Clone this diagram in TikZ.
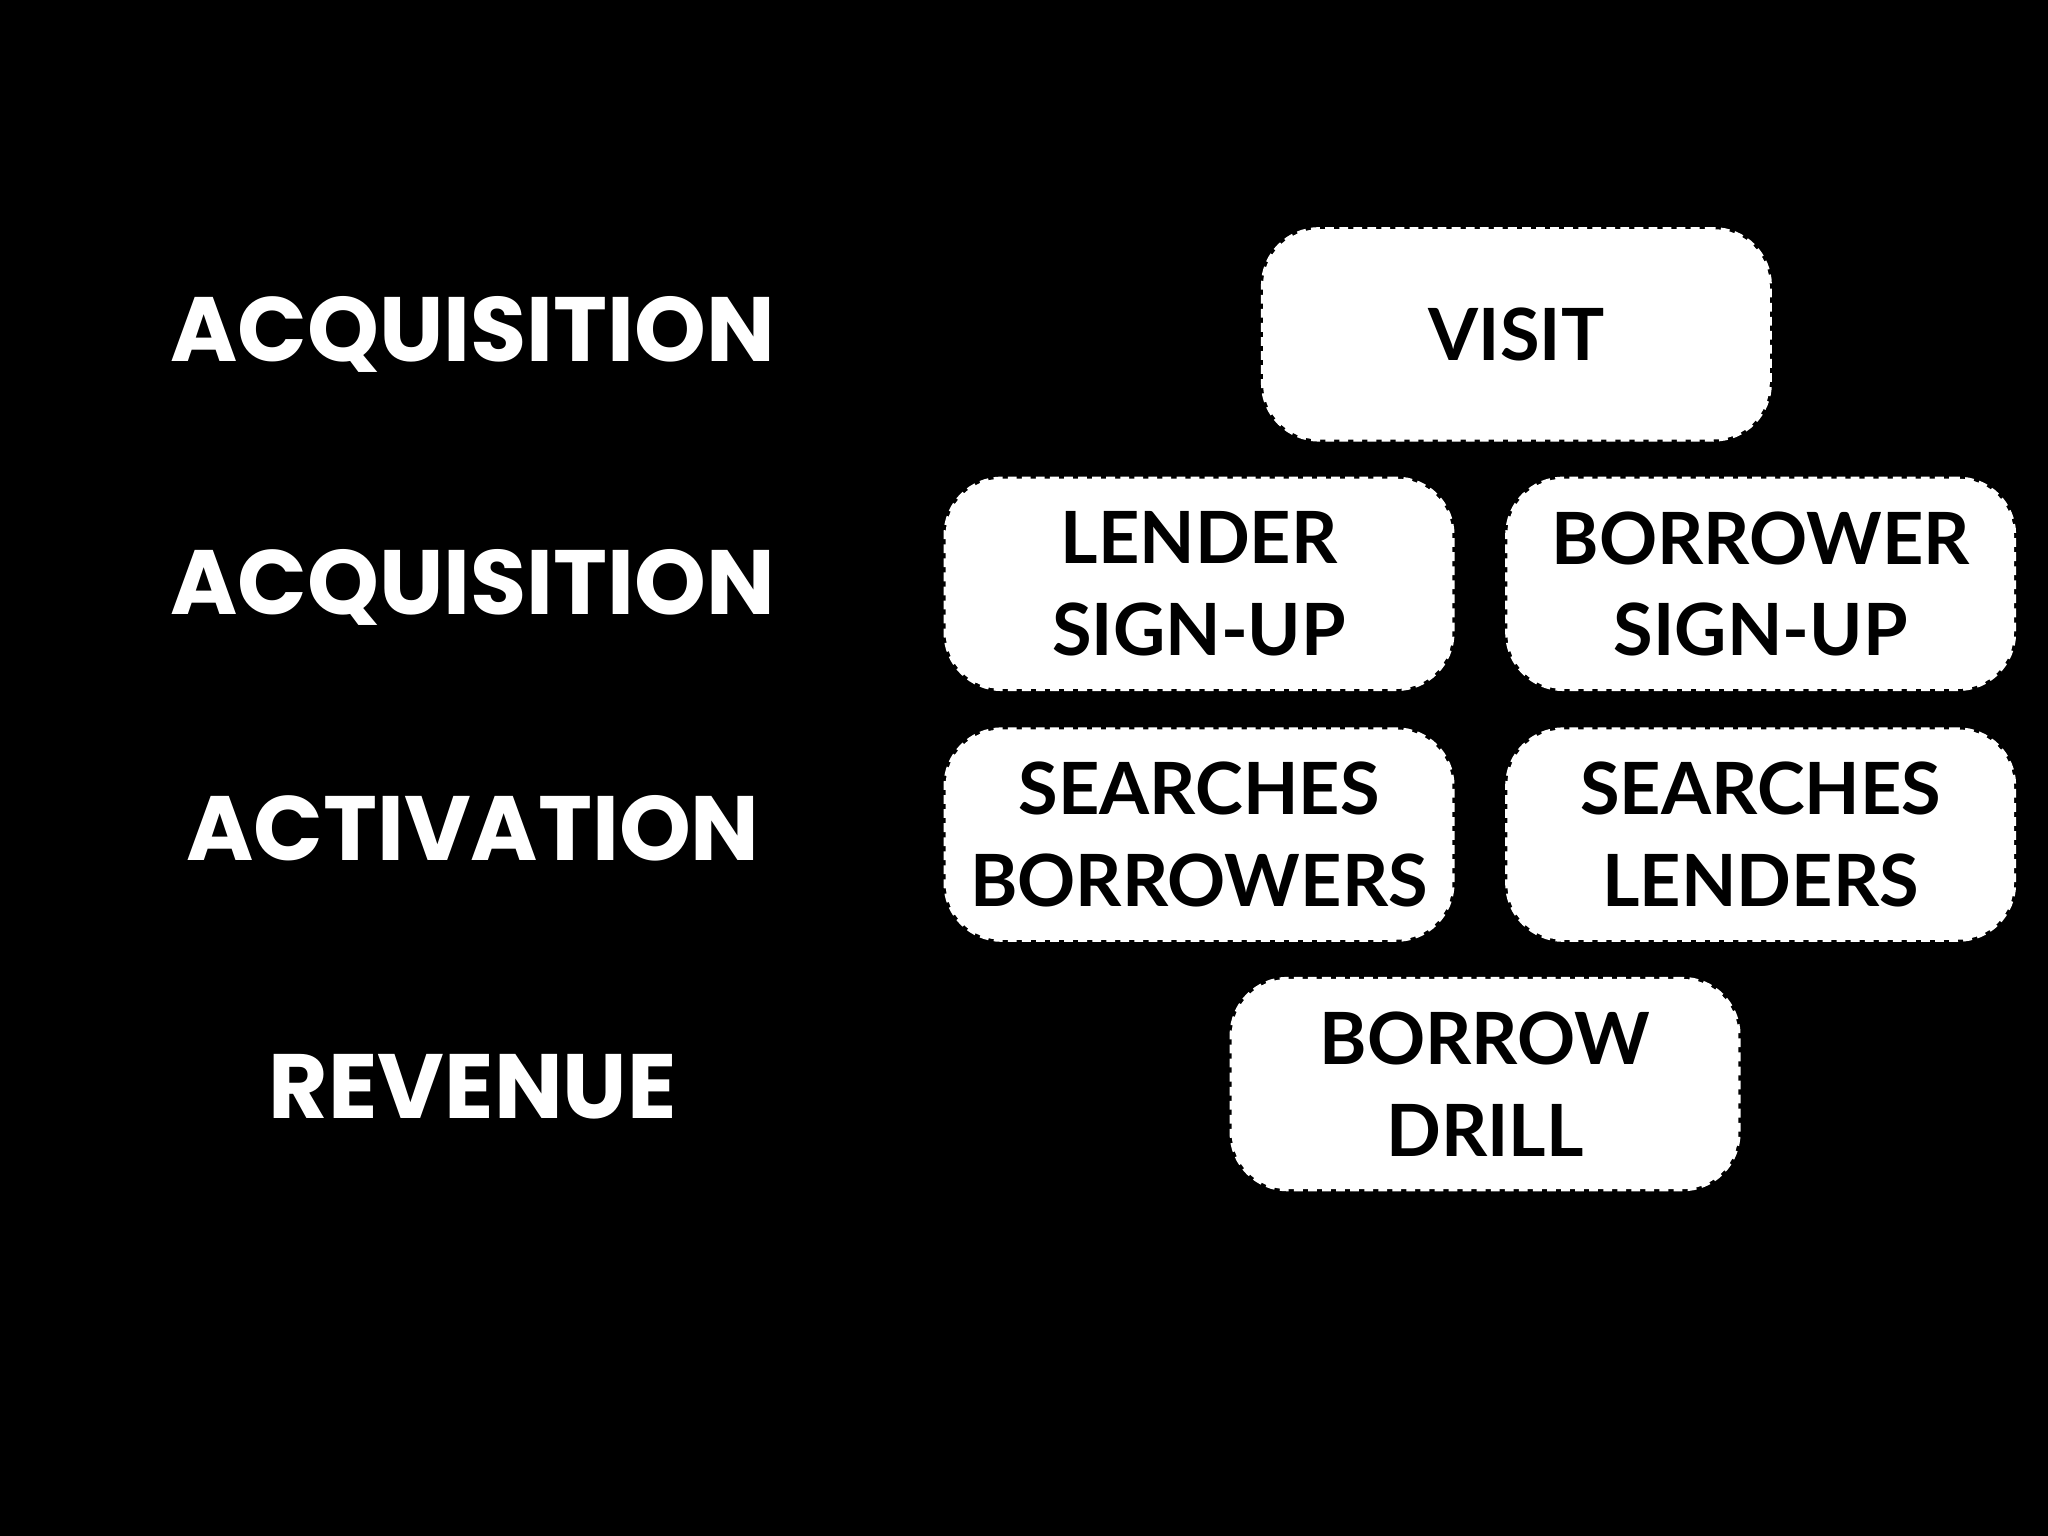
\documentclass[tikz,border=0pt]{standalone}
\usepackage{fontspec}
\setmainfont{Lato}
\newfontfamily\heavy{Poppins}
\begin{document}
\begin{tikzpicture}[x=0.01306cm,y=-0.01306cm,
  box/.style={fill=white,draw=white,line width=1.2pt,dash pattern=on 2.5pt off 1.5pt,rounded corners=16pt,minimum width=388*0.01306cm,minimum height=161*0.01306cm,inner sep=0pt,align=center,font=\fontsize{20.5}{26}\selectfont\bfseries,text=black},
  stage/.style={text=white,font=\heavy\fontsize{26}{30}\selectfont\bfseries}]
\fill[black] (0,0) rectangle (1568,1176);
\useasboundingbox (0,0) rectangle (1568,1176);
\node[stage] (s1) at (362,256) {ACQUISITION};
\node[stage] (s2) at (362,450) {ACQUISITION};
\node[stage] (s3) at (362,634) {ACTIVATION};
\node[stage] (s4) at (362,832) {REVENUE};
\node[box] (visit) at (1161,256) {VISIT};
\node[box] (lsu) at (918,447) {LENDER\\SIGN-UP};
\node[box] (bsu) at (1348,447) {BORROWER\\SIGN-UP};
\node[box] (sb) at (918,639) {SEARCHES\\BORROWERS};
\node[box] (sl) at (1348,639) {SEARCHES\\LENDERS};
\node[box] (bd) at (1137,830) {BORROW\\DRILL};
\end{tikzpicture}
\end{document}
